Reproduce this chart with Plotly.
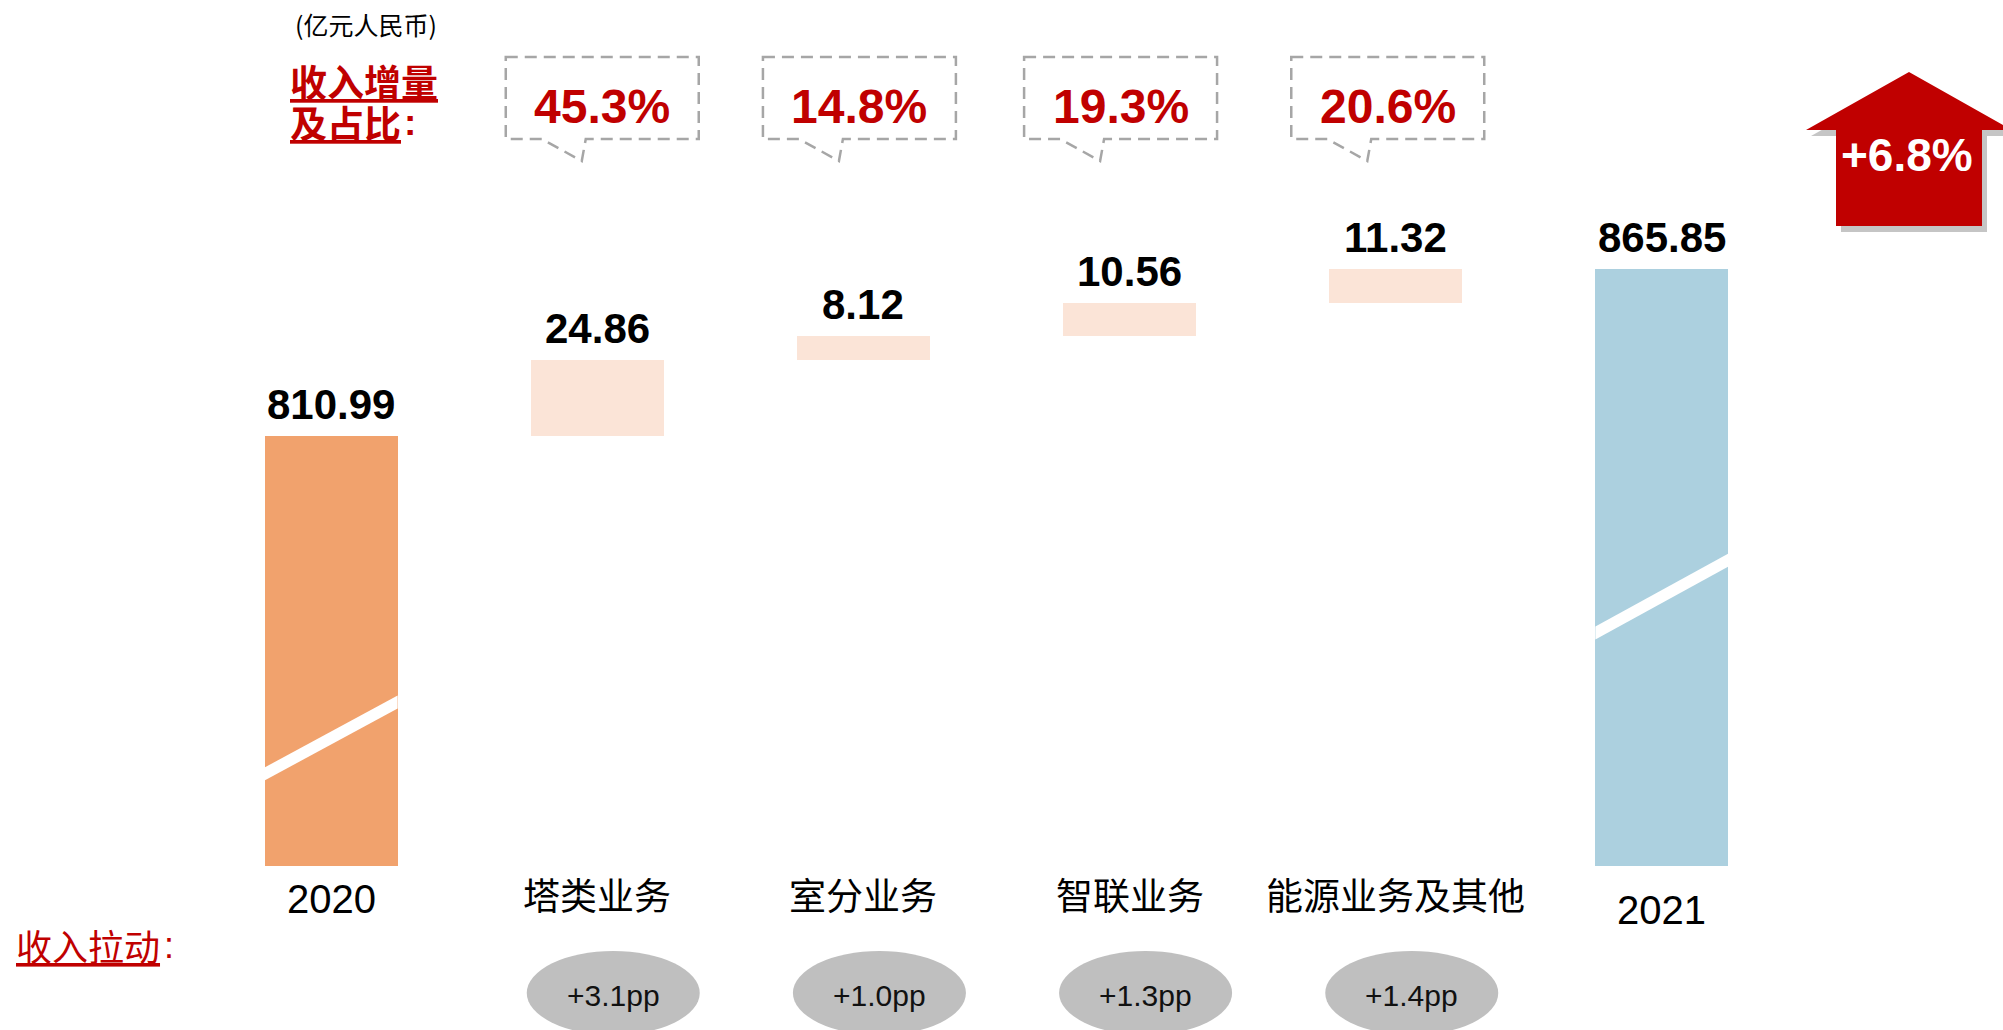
import plotly.graph_objects as go

# ---------------- data ----------------
categories = ["2020", "塔类业务", "室分业务", "智联业务", "能源业务及其他", "2021"]
values = [810.99, 24.86, 8.12, 10.56, 11.32, 865.85]
kinds = ["total", "delta", "delta", "delta", "delta", "total"]
value_labels = ["810.99", "24.86", "8.12", "10.56", "11.32", "865.85"]
share_labels = ["45.3%", "14.8%", "19.3%", "20.6%"]
pull_labels = ["+3.1pp", "+1.0pp", "+1.3pp", "+1.4pp"]
growth_label = "+6.8%"
unit_label = "(亿元人民币)"
share_title = ["收入增量", "及占比"]
pull_title = "收入拉动"

# ---------------- styles ----------------
RED = "#C00000"
COL_TOTAL = {"2020": "#F1A26D", "2021": "#ACD0DF"}
COL_DELTA = "#FBE4D7"
LATIN = "Liberation Sans, Arial, sans-serif"
CJK = "Noto Sans CJK SC, sans-serif"
MIX = "Liberation Sans, Noto Sans CJK SC, sans-serif"

W, H = 2003, 1030
ML, MR, MT, MB = 198, 208, 0, 164
PW, PH = W - ML - MR, H - MT - MB
Y0, Y1 = 669.7, 954.2   # broken axis window


def pyp(px):  # pixel y -> paper y
    return (H - MB - px) / PH


def pxp(px):  # pixel x -> paper x
    return (px - ML) / PW


def pyd(px):  # pixel y -> data y
    return Y1 - (px - MT) * (Y1 - Y0) / PH


XU = PW / 6.0  # pixels per category unit

# waterfall bases
bases, tops, colors = [], [], []
running = 0.0
for c, v, k in zip(categories, values, kinds):
    if k == "total":
        bases.append(0.0)
        running = v
        colors.append(COL_TOTAL[c])
    else:
        bases.append(running)
        running += v
        colors.append(COL_DELTA)
    tops.append(running if k == "delta" else v)

xs = list(range(len(categories)))

fig = go.Figure()
fig.add_trace(go.Bar(
    x=xs, y=values, base=bases, width=0.5,
    marker=dict(color=colors, line=dict(width=0)),
    hoverinfo="skip",
))

shapes = []
annotations = []


def ann(x, y, text, font, xref="paper", yref="paper", xanchor="center", yanchor="middle", **kw):
    d = dict(x=x, y=y, xref=xref, yref=yref, text=text, showarrow=False,
             xanchor=xanchor, yanchor=yanchor, font=font)
    d.update(kw)
    annotations.append(d)


# break slashes on the total bars
breaks = {0: (774, 702), 5: (633, 560)}
th = 13 * (Y1 - Y0) / PH
for i, (pl, pr) in breaks.items():
    yl, yr = pyd(pl), pyd(pr)
    x0, x1 = i - 0.25, i + 0.25
    shapes.append(dict(
        type="path", xref="x", yref="y", layer="above",
        path=f"M {x0},{yl+th/2} L {x1},{yr+th/2} L {x1},{yr-th/2} L {x0},{yl-th/2} Z",
        fillcolor="white", line=dict(width=0),
    ))

# value labels
for i, (t, lab) in enumerate(zip(tops, value_labels)):
    ann(i, t, f"<b>{lab}</b>", dict(family=LATIN, size=42, color="black"),
        xref="x", yref="y", yanchor="bottom", yshift=6)

# category labels
cat_y = {"2020": 899, "2021": 910}
for i, c in enumerate(categories):
    ann(i, pyp(cat_y.get(c, 894)), c,
        dict(family=MIX if c.isdigit() else CJK, size=40 if c.isdigit() else 37, color="black"),
        xref="x")

# speech bubbles with shares
hw = 0.3625
bubble_shift_px = [5, -4, -9, -8]
for j, s in enumerate(share_labels):
    cx = j + 1 + bubble_shift_px[j] / XU
    L, R = cx - hw, cx + hw
    T, B = pyp(57), pyp(139)
    tip = pyp(161)
    tl, tt, tr = L + 36 / XU, L + 76 / XU, L + 80 / XU
    shapes.append(dict(
        type="path", xref="x", yref="paper", layer="above",
        path=(f"M {L},{T} L {R},{T} L {R},{B} L {tr},{B} L {tt},{tip} "
              f"L {tl},{B} L {L},{B} Z"),
        fillcolor="rgba(0,0,0,0)", line=dict(color="#A6A6A6", width=2.5, dash="12px,7px"),
    ))
    ann(cx, pyp(106), f"<b>{s}</b>", dict(family=LATIN, size=48, color=RED), xref="x")

# ellipses with pull contributions
for j, p in enumerate(pull_labels):
    cx = j + 1 + 16 / XU
    shapes.append(dict(
        type="circle", xref="x", yref="paper", layer="below",
        x0=cx - 0.325, x1=cx + 0.325, y0=pyp(1035), y1=pyp(951),
        fillcolor="#BFBFBF", line=dict(width=0),
    ))
    ann(cx, pyp(995), p, dict(family=LATIN, size=30, color="#111111"), xref="x")

# growth arrow
arrow_pts = [(1909, 72), (2012, 130), (1982, 130), (1982, 226), (1836, 226), (1836, 130), (1806, 130)]


def arrow_path(dx, dy):
    pts = [(pxp(x + dx), pyp(y + dy)) for x, y in arrow_pts]
    return "M " + " L ".join(f"{a},{b}" for a, b in pts) + " Z"


shapes.append(dict(type="path", xref="paper", yref="paper", layer="above",
                   path=arrow_path(5, 6), fillcolor="rgba(90,90,90,0.35)", line=dict(width=0)))
shapes.append(dict(type="path", xref="paper", yref="paper", layer="above",
                   path=arrow_path(0, 0), fillcolor=RED, line=dict(width=0)))
ann(pxp(1907), pyp(155), f"<b>{growth_label}</b>", dict(family=LATIN, size=46, color="white"))

# titles / side labels
ann(pxp(366), pyp(24), unit_label, dict(family=CJK, size=25, color="black"))
ann(pxp(288), pyp(81), f"<b>{share_title[0]}</b>",
    dict(family=CJK, size=37, color=RED, lineposition="under"), xanchor="left")
ann(pxp(288), pyp(122), f"<b>{share_title[1]}</b>",
    dict(family=CJK, size=37, color=RED, lineposition="under"), xanchor="left")
ann(pxp(402), pyp(122), "<b>:</b>", dict(family=LATIN, size=37, color=RED), xanchor="left")
ann(pxp(14), pyp(945), pull_title,
    dict(family=CJK, size=36, color=RED, lineposition="under"), xanchor="left")
ann(pxp(162), pyp(945), ":", dict(family=LATIN, size=36, color=RED), xanchor="left")

fig.update_layout(
    width=W, height=H,
    margin=dict(l=ML, r=MR, t=MT, b=MB, pad=0),
    paper_bgcolor="white", plot_bgcolor="white",
    showlegend=False,
    xaxis=dict(range=[-0.5, 5.5], visible=False, fixedrange=True),
    yaxis=dict(range=[Y0, Y1], visible=False, fixedrange=True),
    shapes=shapes, annotations=annotations,
    bargap=0,
)

fig.write_html("out.html", post_script="document.body.style.margin='0px';",
               config={"displayModeBar": False})
